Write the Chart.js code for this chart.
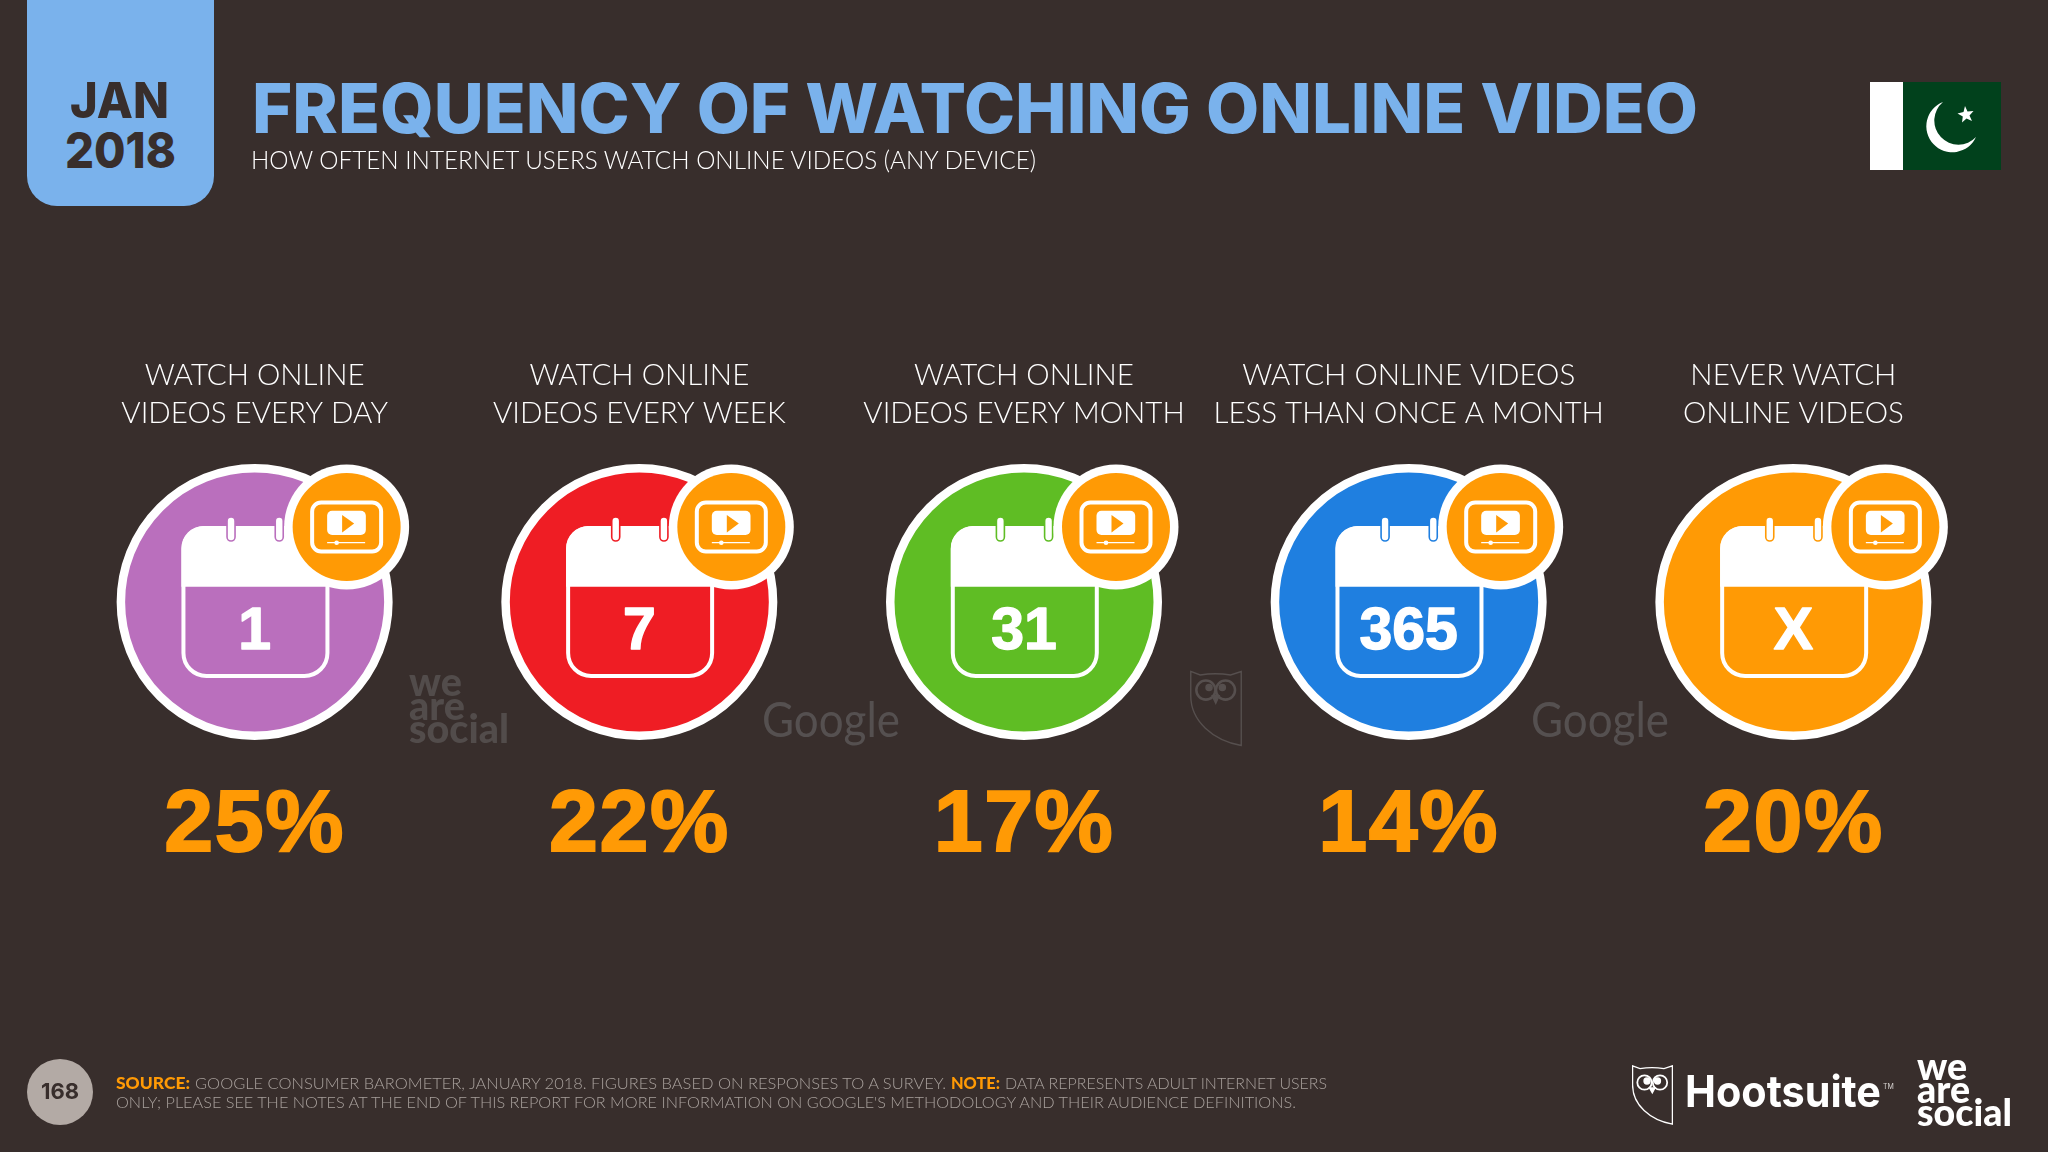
<!DOCTYPE html>
<html><head><meta charset="utf-8">
<script src="https://cdn.jsdelivr.net/npm/chart.js@4"></script>
<style>
html,body{margin:0;padding:0;background:#382e2c;width:2048px;height:1152px;overflow:hidden}
#wrap{position:relative;width:2048px;height:1152px}
canvas{position:absolute;left:0;top:0}
.t{position:absolute;white-space:nowrap;transform-origin:0 0;margin:0}
svg{position:absolute}
#datebox{position:absolute;left:27px;top:-30px;width:187px;height:236px;background:#7ab2ec;border-radius:30px}
</style></head><body><div id="wrap">
<canvas id="c" width="2048" height="1152"></canvas>
<div id="datebox"></div>
<div class="t" data-w="99"  style="left:70px;top:71px;font:800 50px/58px Inter;color:#382e2c">JAN</div>
<div class="t" data-w="111" style="left:65px;top:121px;font:800 50px/58px Inter;color:#382e2c">2018</div>
<div class="t" data-w="1446" style="left:252px;top:66px;font:800 69px/84px Inter;color:#7ab2ec">FREQUENCY OF WATCHING ONLINE VIDEO</div>
<div class="t" data-w="785" style="left:251px;top:144px;font:300 25px/30px Lato;color:#fff">HOW OFTEN INTERNET USERS WATCH ONLINE VIDEOS (ANY DEVICE)</div>

<svg style="left:1870px;top:82px" width="131" height="88" viewBox="0 0 131 88">
<rect width="131" height="88" fill="#01411c"/><rect width="33" height="88" fill="#fff"/>
<path d="M73 20 A26 26 0 1 0 106 55 A24.1 24.1 0 1 1 73 20 Z" fill="#fff"/>
<path d="M95 24 L97.5 29.5 L103.5 29 L99.5 33.5 L102 39 L96.5 36.5 L92 40.5 L92.8 34.5 L87.5 31.5 L93.5 30 Z" fill="#fff"/>
</svg>

<div class="t" data-w="100" style="left:409px;top:670px;font:900 40px/23.5px Lato;color:#524c4b">we<br>are<br>social</div>
<div class="t" data-w="138" style="left:762px;top:690px;font:400 48px/58px Lato;color:#555050">Google</div>
<div class="t" data-w="138" style="left:1531px;top:690px;font:400 48px/58px Lato;color:#555050">Google</div>
<svg style="left:1190px;top:670px" width="52" height="77" viewBox="0 0 41 60" fill="none" stroke="#564f4e" stroke-width="1.1">
<path d="M.6 .8 L8 3.6 Q20 1.6 32 3.6 L40.4 .8 V59.2 C18 55 .6 40 .6 20 Z"/><circle cx="12.5" cy="15.5" r="7.5" stroke-width="2"/><circle cx="28" cy="15.5" r="7.5" stroke-width="2"/><circle cx="15" cy="13.5" r="2.4" fill="#564f4e"/><circle cx="25.5" cy="13.5" r="2.4" fill="#564f4e"/><path d="M17.5 20 L20.3 26 L23 20 Z" fill="#564f4e"/></svg>

<svg style="left:27px;top:1059px" width="66" height="66"><circle cx="33" cy="33" r="33" fill="#b3aaa5"/></svg>
<div class="t" style="left:27px;width:66px;text-align:center;top:1077px;font:700 22px/28px Inter;color:#382e2c">168</div>
<div class="t" data-w="74" style="left:116px;top:1073px;font:900 16.5px/20px Lato;color:#ff9a05">SOURCE:</div>
<div class="t" data-w="751" style="left:195px;top:1073px;font:300 16.5px/20px Lato;color:#a8a09c">GOOGLE CONSUMER BAROMETER, JANUARY 2018. FIGURES BASED ON RESPONSES TO A SURVEY.</div>
<div class="t" data-w="49" style="left:951px;top:1073px;font:900 16.5px/20px Lato;color:#ff9a05">NOTE:</div>
<div class="t" data-w="322" style="left:1005px;top:1073px;font:300 16.5px/20px Lato;color:#a8a09c">DATA REPRESENTS ADULT INTERNET USERS</div>
<div class="t" data-w="1180" style="left:116px;top:1092px;font:300 16.5px/20px Lato;color:#a8a09c">ONLY; PLEASE SEE THE NOTES AT THE END OF THIS REPORT FOR MORE INFORMATION ON GOOGLE'S METHODOLOGY AND THEIR AUDIENCE DEFINITIONS.</div>

<svg style="left:1632px;top:1065px" width="41" height="60" viewBox="0 0 41 60" fill="none" stroke="#fff" stroke-width="1.3">
<path d="M.6 .8 L8 3.6 Q20 1.6 32 3.6 L40.4 .8 V59.2 C18 55 .6 40 .6 20 Z"/><circle cx="12.5" cy="17.5" r="7.2" stroke-width="1.8"/><circle cx="28" cy="17.5" r="7.2" stroke-width="1.8"/><circle cx="15" cy="16" r="3" fill="#fff"/><circle cx="25.5" cy="16" r="3" fill="#fff"/><path d="M17.5 23 L20.3 28 L23 23 Z" fill="#fff"/></svg>
<div class="t" data-w="196" style="left:1685px;top:1064px;font:700 44px/54px Inter;color:#fff">Hootsuite</div>
<div class="t" style="left:1883px;top:1082px;font:400 7px/9px Inter;color:#d8d4d2">TM</div>
<div class="t" data-w="95" style="left:1917px;top:1054px;font:900 38px/23px Lato;color:#fff">we<br>are<br>social</div>
</div>
<script>
const categories=['WATCH ONLINE\nVIDEOS EVERY DAY','WATCH ONLINE\nVIDEOS EVERY WEEK','WATCH ONLINE\nVIDEOS EVERY MONTH','WATCH ONLINE VIDEOS\nLESS THAN ONCE A MONTH','NEVER WATCH\nONLINE VIDEOS'];
const sharePercent=[25,22,17,14,20];
const dayLabels=['1','7','31','365','X'];
const circleColors=['#ba6fbd','#ef1d24','#5fbd24','#1f7fe0','#ff9a05'];
const shareLabels=sharePercent.map(v=>v+'%');
const ROW='row';

document.querySelectorAll('[data-w]').forEach(e=>{
  const w=e.getBoundingClientRect().width;
  e.style.transform='scaleX('+(+e.dataset.w/w)+')';
});

function rr(ctx,x,y,w,h,r){ctx.beginPath();ctx.roundRect(x,y,w,h,r);}
const noSidePadding=s=>{s.paddingLeft=0;s.paddingRight=0;};
const iconPlugin={id:'icons',
 afterDatasetsDraw(chart){
  const ctx=chart.ctx,pts=chart.getDatasetMeta(0).data;
  ctx.save();
  pts.forEach((p,i)=>{
   const cx=p.x,cy=p.y,col=circleColors[i],kx=cx+0.8;
   ctx.fillStyle='#fff';
   rr(ctx,kx-74,cy-76,148,60.7,[22,22,0,0]);ctx.fill();
   ctx.strokeStyle='#fff';ctx.lineWidth=4;
   rr(ctx,kx-72,cy-74,144,148,[21,21,23,23]);ctx.stroke();
   [-23.6,24.6].forEach(dx=>{
     ctx.fillStyle='#fff';ctx.strokeStyle=col;ctx.lineWidth=1.6;
     rr(ctx,cx+dx-4,cy-85,8,24,4);ctx.fill();ctx.stroke();
   });
   ctx.fillStyle='#fff';ctx.strokeStyle='#fff';ctx.lineWidth=1.4;ctx.lineJoin='round';
   ctx.font='700 59px "Liberation Sans"';ctx.textAlign='center';ctx.textBaseline='alphabetic';
   ctx.strokeText(dayLabels[i],cx,cy+47);ctx.fillText(dayLabels[i],cx,cy+47);
   const bx=cx+92,by=cy-75;
   ctx.fillStyle='#fff';ctx.beginPath();ctx.arc(bx,by,62.5,0,7);ctx.fill();
   ctx.fillStyle='#ff9a05';ctx.beginPath();ctx.arc(bx,by,54,0,7);ctx.fill();
   ctx.strokeStyle='#fff';ctx.lineWidth=4;
   rr(ctx,bx-34.5,by-24.5,69,49,9);ctx.stroke();
   ctx.fillStyle='#fff';rr(ctx,bx-19.5,by-16.3,38.7,24.3,5);ctx.fill();
   ctx.fillStyle='#ff9a05';ctx.beginPath();ctx.moveTo(bx-4.5,by-12);ctx.lineTo(bx+7.5,by-3.5);ctx.lineTo(bx-4.5,by+5.5);ctx.closePath();ctx.fill();
   ctx.strokeStyle='#fff';ctx.lineWidth=1.3;ctx.beginPath();ctx.moveTo(bx-19.5,by+15.7);ctx.lineTo(bx+18.5,by+15.7);ctx.stroke();
   ctx.fillStyle='#fff';ctx.beginPath();ctx.arc(bx-10,by+15.7,2.3,0,7);ctx.fill();
  });
  ctx.restore();
  ctx.letterSpacing='1.5px'; // applies to the share-percent ticks, which draw after the datasets
 },
 afterDraw(chart){chart.ctx.letterSpacing='0px';}
};

new Chart(document.getElementById('c'),{
 type:'scatter',
 plugins:[iconPlugin],
 data:{datasets:[{
   label:'Watching frequency',
   xAxisID:'x',yAxisID:'y',
   data:categories.map((c,i)=>({x:c,y:ROW,share:sharePercent[i]})),
   showLine:false,clip:false,
   pointRadius:133.75,pointHoverRadius:133.75,pointBorderWidth:8.5,
   pointBorderColor:'#fff',pointBackgroundColor:circleColors
 }]},
 options:{
  responsive:false,animation:false,events:[],devicePixelRatio:1,
  layout:{autoPadding:false,padding:{left:62.3,right:62.3,top:350,bottom:272}},
  plugins:{legend:{display:false},tooltip:{enabled:false},title:{display:false}},
  scales:{
   x:{type:'category',position:'top',labels:categories,offset:true,
      grid:{display:false,drawTicks:false},border:{display:false},
      afterFit(s){s.height=90;noSidePadding(s);},
      ticks:{padding:8,autoSkip:false,maxRotation:0,minRotation:0,color:'#ffffff',
        font:{family:'Lato',size:29.5,weight:'300',lineHeight:38/29.5},
        callback(v){return this.getLabelForValue(v).split('\n');}}},
   xShare:{type:'category',position:'bottom',labels:shareLabels,offset:true,
      grid:{display:false,drawTicks:false},border:{display:false},
      afterFit(s){s.height=116;noSidePadding(s);},
      ticks:{z:1,padding:19,autoSkip:false,maxRotation:0,minRotation:0,color:'#ff9a05',
        textStrokeColor:'#ff9a05',textStrokeWidth:2,
        font:{family:'"Liberation Sans"',size:88,weight:'700',lineHeight:1}}},
   y:{type:'category',labels:[ROW],offset:true,display:false}
  }
 }
});
</script></body></html>
